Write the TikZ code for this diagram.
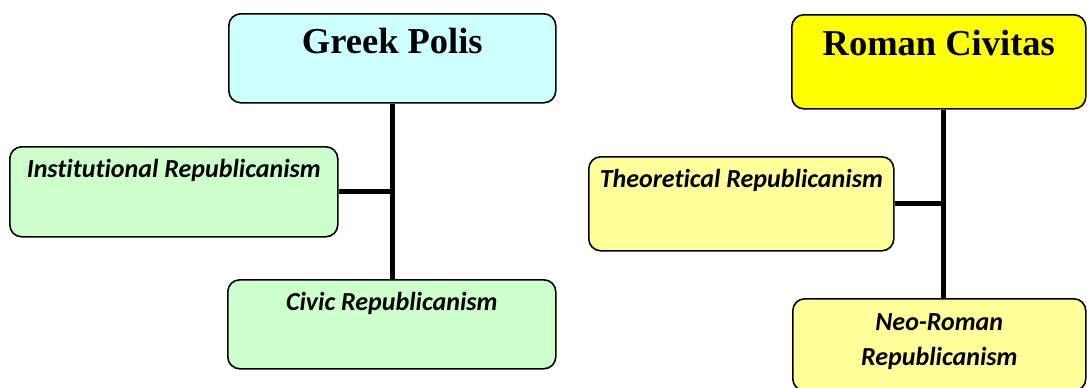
\documentclass[tikz,border=0pt]{standalone}
\usepackage{fontspec}
\setmainfont{Liberation Serif}
\newfontfamily\calib[Ligatures=NoCommon]{Carlito}
\usepackage{xcolor}
\usetikzlibrary{positioning}

\definecolor{polisblue}{HTML}{CCFFFF}
\definecolor{polisgreen}{HTML}{CCFFCC}
\definecolor{civyellow}{HTML}{FFFF00}
\definecolor{civpale}{HTML}{FFFF99}

\begin{document}
\begin{tikzpicture}[
    x=1pt, y=-1pt,
    box/.style={rectangle, draw, line width=1.6pt, rounded corners=12pt, anchor=north west, inner xsep=0pt, inner ysep=0pt, align=center},
    title/.style={box, font=\fontsize{36.5}{40}\selectfont\bfseries},
    school/.style={box, font=\calib\fontsize{26}{35}\selectfont\bfseries\itshape},
    link/.style={line width=5pt}
]
\useasboundingbox (0,0) rectangle (1087,388);

% Greek side
\node[title, fill=polisblue, minimum width=327pt, text height=40pt, text depth=49pt] (greek) at (228,13) {Greek Polis};
\node[school, fill=polisgreen, minimum width=328pt, text height=31pt, text depth=59pt] (inst) at (9,146) {Institutional Republicanism};
\node[school, fill=polisgreen, minimum width=328pt, text height=31pt, text depth=58pt] (civic) at (227,279) {Civic Republicanism};
\coordinate (gtrunk) at (greek.south);

% Roman side
\node[title, fill=civyellow, minimum width=294pt, text height=41pt, text depth=53pt] (roman) at (791,14) {Roman Civitas};
\node[school, fill=civpale, minimum width=305pt, text height=31pt, text depth=63pt] (theo) at (588,156) {Theoretical Republicanism};
\node[school, fill=civpale, text width=293pt, text height=32pt, text depth=60pt] (neo) at (792,298) {Neo-Roman\\Republicanism};
\coordinate (rtrunk) at ([xshift=5pt]roman.south);

% Connectors
\draw[link] (gtrunk) -- (gtrunk |- civic.north);
\draw[link] (inst.east) -- (inst.east -| gtrunk);
\draw[link] (rtrunk) -- (rtrunk |- neo.north);
\draw[link] (theo.east) -- (theo.east -| rtrunk);

\end{tikzpicture}
\end{document}
